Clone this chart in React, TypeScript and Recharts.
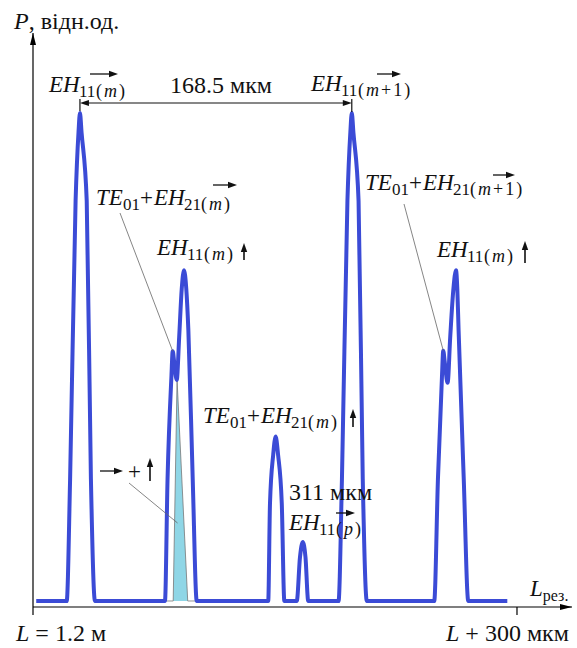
import React from 'react';
import { ComposedChart, Line, Area, XAxis, YAxis } from 'recharts';

// resonator length offset, мкм  /  power, rel. units
const baseStart = { x: 2, y: 0 };
const baseEnd = { x: 294, y: 0 };

// EH11(m) ->
const peakEH11m = [
  { x: 20.9, y: 0 }, { x: 23.0, y: 0.25 }, { x: 26.4, y: 0.82 }, { x: 28.2, y: 0.96 },
  { x: 29.1, y: 1.0 }, { x: 30.1, y: 0.96 }, { x: 33.3, y: 0.82 }, { x: 35.9, y: 0.25 }, { x: 38.4, y: 0 },
];

// TE01+EH21(m) -> and EH11(m) ^
const groupM = [
  { x: 81.8, y: 0 }, { x: 83.4, y: 0.25 }, { x: 85.8, y: 0.46 }, { x: 86.6, y: 0.512 },
  { x: 87.5, y: 0.49 }, { x: 89.1, y: 0.453 }, { x: 90.6, y: 0.54 }, { x: 92.2, y: 0.64 },
  { x: 93.6, y: 0.678 }, { x: 95.0, y: 0.64 }, { x: 96.3, y: 0.555 }, { x: 99.0, y: 0.25 }, { x: 101.5, y: 0 },
];

// TE01+EH21(m) ^
const peakTE21m = [
  { x: 145.8, y: 0 }, { x: 146.9, y: 0.2 }, { x: 148.9, y: 0.3 }, { x: 150.4, y: 0.337 },
  { x: 151.9, y: 0.3 }, { x: 154.2, y: 0.2 }, { x: 155.8, y: 0 },
];

// EH11(p) ->
const peakEH11p = [
  { x: 163.5, y: 0 }, { x: 165.5, y: 0.09 }, { x: 167.2, y: 0.121 }, { x: 168.9, y: 0.09 }, { x: 170.6, y: 0 },
];

// EH11(m+1) ->
const peakEH11m1 = [
  { x: 189.4, y: 0 }, { x: 191.5, y: 0.25 }, { x: 194.9, y: 0.82 }, { x: 196.7, y: 0.96 },
  { x: 197.6, y: 1.0 }, { x: 198.6, y: 0.96 }, { x: 201.8, y: 0.82 }, { x: 204.4, y: 0.25 }, { x: 206.9, y: 0 },
];

// TE01+EH21(m+1) -> and EH11(m) ^
const groupM1 = [
  { x: 248.7, y: 0 }, { x: 251.0, y: 0.25 }, { x: 253.5, y: 0.46 }, { x: 254.3, y: 0.513 },
  { x: 255.2, y: 0.49 }, { x: 257.0, y: 0.447 }, { x: 258.6, y: 0.54 }, { x: 260.6, y: 0.64 },
  { x: 262.2, y: 0.678 }, { x: 263.0, y: 0.64 }, { x: 263.8, y: 0.555 }, { x: 267.0, y: 0.25 }, { x: 269.8, y: 0 },
];

// shaded -> + ^ part
const wedge = [
  { x: 82.5, y: 0 }, { x: 86.9, y: 0 }, { x: 89.3, y: 0.453 }, { x: 95.9, y: 0 }, { x: 100.5, y: 0 },
];

const curve = [baseStart, ...peakEH11m, ...groupM, ...peakTE21m, ...peakEH11p, ...peakEH11m1, ...groupM1, baseEnd];

const xTicks = [0, 300];
const xTickText = ['= 1.2 м', '+ 300 мкм'];
const spacingLabel = '168.5 мкм';
const spacingLabel2 = '311 мкм';

const W = 577;
const H = 648;
const LEFT = 33;
const TOP = 33;
const RIGHT = 572;
const BOTTOM = 607;
const X_MAX = 334.1;
const Y_MIN = -0.0123;
const Y_MAX = 1.1639;

const xPx = (u: number) => LEFT + (u / X_MAX) * (RIGHT - LEFT);
const yPx = (v: number) => BOTTOM - ((v - Y_MIN) / (Y_MAX - Y_MIN)) * (BOTTOM - TOP);

const SERIF = "'Liberation Serif', 'Times New Roman', serif";
const BLUE = '#3b4bd6';
const INK = '#111';
const SUB = 17;

const I = ({ children }: { children: React.ReactNode }) => <tspan fontStyle="italic">{children}</tspan>;

// mode label: italic name, subscript index, optional (m) group
type ModeProps = { x: number; y: number; name: string; idx: string; grp?: React.ReactNode };
const Mode = ({ x, y, name, idx, grp }: ModeProps) => {
  const ix = x + (name === 'TE' ? 27 : 30);
  return (
    <g>
      <text x={x} y={y} fontSize={23} fontStyle="italic">{name}</text>
      <text x={ix} y={y + 5} fontSize={SUB}>{idx}</text>
      {grp && <text x={ix + 17} y={y + 5} fontSize={18} letterSpacing={2}>{grp}</text>}
    </g>
  );
};

const HArrow = ({ x1, x2, y }: { x1: number; x2: number; y: number }) => (
  <g>
    <line x1={x1} y1={y} x2={x2 - 5} y2={y} stroke={INK} strokeWidth={1.3} />
    <polygon points={`${x2},${y} ${x2 - 9},${y - 3.2} ${x2 - 9},${y + 3.2}`} fill={INK} />
  </g>
);

const UpArrow = ({ x, y1, y2 }: { x: number; y1: number; y2: number }) => (
  <g>
    <line x1={x} y1={y1} x2={x} y2={y2 + 5} stroke={INK} strokeWidth={1.6} />
    <polygon points={`${x},${y2} ${x - 3.2},${y2 + 9} ${x + 3.2},${y2 + 9}`} fill={INK} />
  </g>
);

const XTick = (props: any) => {
  const { x, y, payload } = props;
  const i = xTicks.indexOf(payload.value);
  return (
    <text x={i === 0 ? x - 17 : x - 71} y={y + 24} fontFamily={SERIF} fontSize={24} fill={INK}>
      <I>L</I> {xTickText[i]}
    </text>
  );
};

const Annotations = () => {
  const xa = xPx(29.1);
  const xb = xPx(197.6);
  const dimY = 103;
  return (
    <svg width={W} height={H} style={{ position: 'absolute', left: 0, top: 0, pointerEvents: 'none' }}>
      <defs>
        <marker id="axArrow" viewBox="0 0 12 6" refX="12" refY="3" markerWidth="12" markerHeight="6"
          markerUnits="userSpaceOnUse" orient="auto-start-reverse">
          <path d="M0,0 L12,3 L0,6 z" fill="#000" />
        </marker>
      </defs>
      <g fontFamily={SERIF} fill={INK}>
        <text x={14} y={29} fontSize={24}><I>P</I>, відн.од.</text>

        {/* spacing between EH11(m) and EH11(m+1) */}
        <line x1={xa} y1={99} x2={xa} y2={111} stroke={INK} strokeWidth={1.2} />
        <line x1={xb} y1={99} x2={xb} y2={112} stroke={INK} strokeWidth={1.2} />
        <line x1={xa + 5} y1={dimY} x2={xb - 5} y2={dimY} stroke={INK} strokeWidth={1.2} />
        <polygon points={`${xa},${dimY} ${xa + 9},${dimY - 3} ${xa + 9},${dimY + 3}`} fill={INK} />
        <polygon points={`${xb},${dimY} ${xb - 9},${dimY - 3} ${xb - 9},${dimY + 3}`} fill={INK} />
        <text x={170} y={93} fontSize={24}>{spacingLabel}</text>

        <Mode x={49} y={92} name="EH" idx="11" grp={<>(<I>m</I>)</>} />
        <HArrow x1={90} x2={118} y={74} />

        <Mode x={311} y={91} name="EH" idx="11" grp={<>(<I>m</I>+1)</>} />
        <HArrow x1={377} x2={401} y={74} />

        <Mode x={96} y={205} name="TE" idx="01" />
        <text x={140} y={205} fontSize={23}>+</text>
        <Mode x={154} y={205} name="EH" idx="21" grp={<>(<I>m</I>)</>} />
        <HArrow x1={213} x2={237} y={185} />
        <line x1={120} y1={213} x2={xPx(86.6)} y2={yPx(0.512)} stroke="#666" strokeWidth={0.8} />

        <Mode x={157} y={255} name="EH" idx="11" grp={<>(<I>m</I>)</>} />
        <UpArrow x={244} y1={260} y2={243} />

        <Mode x={203} y={423} name="TE" idx="01" />
        <text x={247} y={423} fontSize={23}>+</text>
        <Mode x={261} y={423} name="EH" idx="21" grp={<>(<I>m</I>)</>} />
        <UpArrow x={353} y1={427} y2={409} />

        <text x={289} y={500} fontSize={24}>{spacingLabel2}</text>
        <Mode x={289} y={530} name="EH" idx="11" grp={<>(<I>p</I>)</>} />
        <HArrow x1={336} x2={355} y={513} />

        <HArrow x1={100} x2={123} y={471} />
        <text x={128} y={479} fontSize={23}>+</text>
        <UpArrow x={150} y1={481} y2={458} />
        <line x1={129} y1={483} x2={xPx(89.6)} y2={523} stroke="#666" strokeWidth={0.8} />

        <Mode x={365} y={190} name="TE" idx="01" />
        <text x={409} y={190} fontSize={23}>+</text>
        <Mode x={423} y={190} name="EH" idx="21" grp={<>(<I>m</I>+1)</>} />
        <HArrow x1={493} x2={515} y={175} />
        <line x1={404} y1={204} x2={xPx(254.3)} y2={yPx(0.513)} stroke="#666" strokeWidth={0.8} />

        <Mode x={437} y={257} name="EH" idx="11" grp={<>(<I>m</I>)</>} />
        <UpArrow x={525} y1={263} y2={241} />

        <text x={530} y={596} fontSize={23}><I>L</I><tspan fontSize={16} dy={5}>рез.</tspan></text>
      </g>
    </svg>
  );
};

export default function App() {
  return (
    <div style={{ position: 'absolute', left: 0, top: 0, width: W, height: H, background: '#fff' }}>
      <ComposedChart width={W} height={H} margin={{ top: TOP, right: W - RIGHT, bottom: 0, left: 0 }}>
        <XAxis
          type="number"
          dataKey="x"
          domain={[0, X_MAX]}
          allowDataOverflow
          ticks={xTicks}
          tickSize={8}
          tickLine={{ stroke: '#000', strokeWidth: 1.2 }}
          axisLine={{ stroke: '#000', strokeWidth: 1.2, markerEnd: 'url(#axArrow)' }}
          tick={<XTick />}
          height={H - BOTTOM}
        />
        <YAxis
          type="number"
          domain={[Y_MIN, Y_MAX]}
          allowDataOverflow
          tick={false}
          tickLine={false}
          axisLine={{ stroke: '#000', strokeWidth: 1.2, markerStart: 'url(#axArrow)' }}
          width={LEFT}
        />
        <Area
          data={wedge}
          dataKey="y"
          type="linear"
          baseValue={0}
          fill="#8fd6e6"
          fillOpacity={1}
          stroke="#777"
          strokeWidth={0.8}
          isAnimationActive={false}
        />
        <Line
          data={curve}
          dataKey="y"
          type="monotone"
          stroke={BLUE}
          strokeWidth={4}
          strokeLinejoin="round"
          dot={false}
          isAnimationActive={false}
        />
      </ComposedChart>
      <Annotations />
    </div>
  );
}
